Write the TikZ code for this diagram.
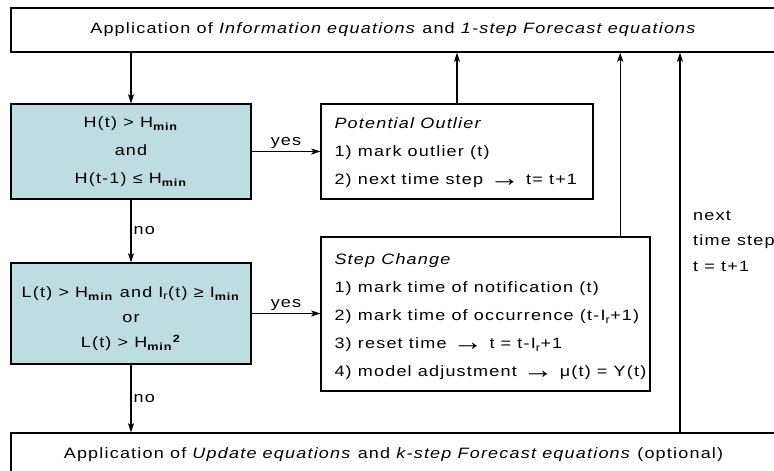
\documentclass[tikz,border=0pt]{standalone}
\usepackage{fontspec}
\setmainfont{Liberation Sans}[FakeStretch=1.2,LetterSpace=8]
\usetikzlibrary{arrows.meta}
\definecolor{condfill}{HTML}{BEDDE1}
\newcommand{\Hmn}{H\textsubscript{\textbf{min}}}
\newcommand{\Imn}{I\textsubscript{\textbf{min}}}
\newcommand{\toarr}{\raisebox{-0.25ex}{\scalebox{1.7}{→}}}
\tikzset{
  boxs/.style={draw, line width=1.4pt, inner sep=0pt},
  cond/.style={boxs, fill=condfill, align=center},
  txt/.style={inner sep=0pt, align=left, anchor=west},
  ctxt/.style={inner sep=0pt, align=center},
  arr/.style={line width=1.4pt, -{Stealth[length=9pt,width=6pt,inset=2pt]}},
  lbl/.style={inner sep=2pt}
}
\begin{document}
\begin{tikzpicture}[x=1pt,y=-1pt,font=\fontsize{15}{28}\selectfont]
\useasboundingbox (0,0) rectangle (774,471);
\clip (0,0) rectangle (774,471);
% boxes
\node[boxs, minimum width=765, minimum height=44] (top) at (393.5,30)
  {Application of \textit{Information equations} and \textit{1-step Forecast equations}};
\node[boxs, minimum width=765, minimum height=44] (bot) at (393.5,455)
  {Application of \textit{Update equations} and \textit{k-step Forecast equations} (optional)};
\node[cond, minimum width=240, minimum height=95] (c1) at (131,151.5)
  {H(t) > \Hmn\\ and\\ H(t-1) ≤ \Hmn};
\node[cond, minimum width=240, minimum height=101] (c2) at (131,313.5) {};
\node[ctxt] (c2t) at ([yshift=-5pt]c2.center)
  {L(t) > \Hmn{} and I\textsubscript{r}(t) ≥ \Imn\\[-3pt] or\\[-3pt] L(t) > \Hmn\textsuperscript{\textbf{2}}};
\node[boxs, minimum width=272, minimum height=95] (out) at (457,151.5) {};
\node[txt] (outt) at ([xshift=14pt,yshift=-1pt]out.west)
  {\textit{Potential Outlier}\\ 1) mark outlier (t)\\ 2) next time step \toarr{} t= t+1};
\node[boxs, minimum width=329, minimum height=154] (stp) at (485.5,314) {};
\node[txt] (stpt) at ([xshift=14pt,yshift=-3pt]stp.west)
  {\textit{Step Change}\\ 1) mark time of notification (t)\\ 2) mark time of occurrence (t-I\textsubscript{r}+1)\\ 3) reset time \toarr{} t = t-I\textsubscript{r}+1\\ 4) model adjustment \toarr{} μ(t) = Y(t)};
\node[txt, anchor=north west] (nts) at (693,211) {next\\[-3pt] time step\\[-2pt] t = t+1};
% connectors
\coordinate (rl) at (680,0);
\draw[arr] (c1.north |- top.south) -- (c1.north);
\draw[arr] (c1.east) -- node[lbl, above] {yes} (out.west);
\draw[arr] (c1.south) -- node[lbl, right] {no} (c2.north);
\draw[arr] (c2.east) -- node[lbl, above] {yes} (c2.east -| stp.west);
\draw[arr] (c2.south) -- node[lbl, right] {no} (c2.south |- bot.north);
\draw[arr] (out.north) -- (out.north |- top.south);
\draw[arr] ([xshift=-30.5pt]stp.north east) -- ([xshift=-30.5pt]stp.north east |- top.south);
\draw[arr] (rl |- bot.north) -- (rl |- top.south);
\end{tikzpicture}
\end{document}
